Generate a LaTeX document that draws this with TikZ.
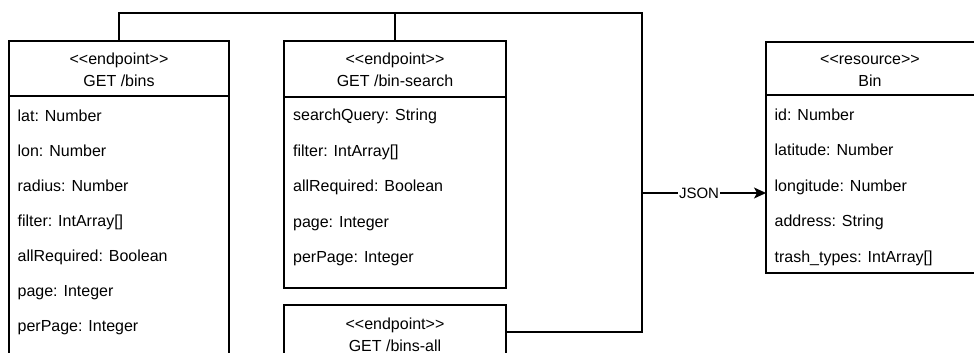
\documentclass[tikz,border=0pt]{standalone}
\usepackage{fontspec}
\setmainfont{Liberation Sans}[Ligatures=TeXOff]
\usetikzlibrary{arrows.meta}
\newcommand\umlfont{\fontsize{16}{20}\selectfont}
\newcommand\labelfont{\fontsize{15}{18}\selectfont}
\begin{document}
\begin{tikzpicture}[x=1pt,y=-1pt,line width=1.3pt,
  umlbox/.style={draw=black, rectangle, anchor=north west, inner sep=0pt, outer sep=0pt},
  field/.style={anchor=base west, inner sep=0pt, font=\umlfont},
  headline/.style={anchor=base, inner sep=0pt, font=\umlfont},
  flow/.style={draw=black, line width=1.3pt},
  arrowhead/.style={-{Stealth[length=12pt,width=11pt,inset=3pt]}}]
\useasboundingbox (0,0) rectangle (974,353);

% endpoint GET /bins
\node[umlbox, minimum width=220, minimum height=360] (bins) at (9,41) {};
\draw ([yshift=-55pt]bins.north west) -- ([yshift=-55pt]bins.north east);
\path (bins.north) ++(0,24) node[headline] {<<endpoint>>};
\path (bins.north) ++(0,45) node[headline] {GET /bins};
\foreach \t [count=\i] in {{lat: Number},{lon: Number},{radius: Number},{filter: IntArray[]},{allRequired: Boolean},{page: Integer},{perPage: Integer}}
  \path (bins.north west) ++(8,{80+35*(\i-1)}) node[field] {\t};

% endpoint GET /bin-search
\node[umlbox, minimum width=222, minimum height=247] (search) at (284,41) {};
\draw ([yshift=-56pt]search.north west) -- ([yshift=-56pt]search.north east);
\path (search.north) ++(0,24) node[headline] {<<endpoint>>};
\path (search.north) ++(0,45) node[headline] {GET /bin-search};
\foreach \t [count=\i] in {{searchQuery: String},{filter: IntArray[]},{allRequired: Boolean},{page: Integer},{perPage: Integer}}
  \path (search.north west) ++(8.5,{79.5+35.5*(\i-1)}) node[field] {\t};

% endpoint GET /bins-all
\node[umlbox, minimum width=222, minimum height=54] (all) at (284,305) {};
\path (all.north) ++(0,24) node[headline] {<<endpoint>>};
\path (all.north) ++(0,46) node[headline] {GET /bins-all};

% resource Bin
\node[umlbox, minimum width=212, minimum height=231] (bin) at (766,42) {};
\draw ([yshift=-53pt]bin.north west) -- ([yshift=-53pt]bin.north east);
\path (766,42) ++(104,23) node[headline] {<<resource>>};
\path (766,42) ++(104,44) node[headline] {Bin};
\foreach \t [count=\i] in {{id: Number},{latitude: Number},{longitude: Number},{address: String},{trash\_types: IntArray[]}}
  \path (bin.north west) ++(8,{78+35.5*(\i-1)}) node[field] {\t};

% connectors
\coordinate (top) at (642,13);
\coordinate (joint) at (642,193);
\draw[flow] (bins.north) |- (top) -- (joint);
\draw[flow] (search.north) -- (search.north |- top);
\draw[flow] (all.east) -| (joint);
\draw[flow, arrowhead] (joint) -- node[pos=0.46, fill=white, inner sep=1pt, font=\labelfont] {JSON} (joint -| bin.west);
\end{tikzpicture}
\end{document}
